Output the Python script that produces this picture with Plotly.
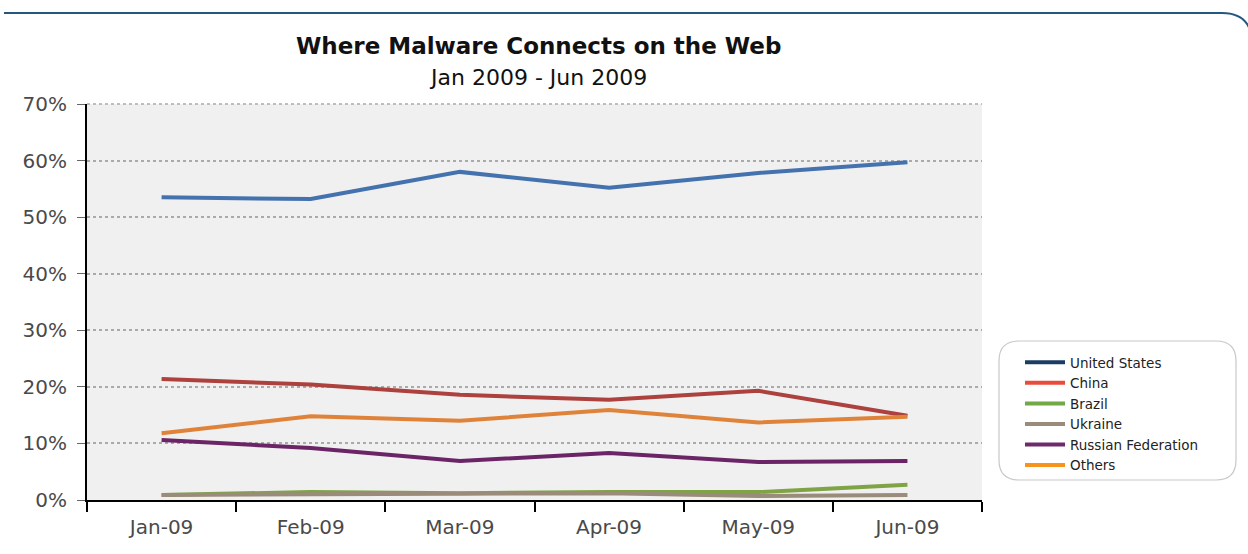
import plotly.graph_objects as go

months = ["Jan-09", "Feb-09", "Mar-09", "Apr-09", "May-09", "Jun-09"]
united_states = [53.5, 53.2, 58.0, 55.2, 57.8, 59.7]
china = [21.4, 20.4, 18.6, 17.7, 19.3, 14.9]
brazil = [0.9, 1.4, 1.2, 1.4, 1.4, 2.7]
ukraine = [0.9, 1.0, 1.0, 1.2, 0.7, 0.9]
russia = [10.6, 9.2, 6.9, 8.3, 6.7, 6.9]
others = [11.8, 14.8, 14.0, 15.9, 13.7, 14.7]

names = ["United States", "China", "Brazil", "Ukraine", "Russian Federation", "Others"]
series = [united_states, china, brazil, ukraine, russia, others]
line_colors = ["#4472ae", "#ad413d", "#7ea445", "#9a8b7a", "#6b2466", "#e0833a"]
legend_colors = ["#1c3d63", "#e84c3d", "#72a845", "#9a8b7a", "#6e2a6b", "#f7941d"]

W, H = 1248, 554
L, R, T, B = 87, 982, 104, 500
FONT = "DejaVu Sans, Open Sans, sans-serif"

def px(x):
    return (x - L) / (R - L)

def py(y):
    return (B - y) / (B - T)

fig = go.Figure()
for n, s, c in zip(names, series, line_colors):
    fig.add_trace(go.Scatter(x=months, y=s, mode="lines", name=n,
                             line=dict(color=c, width=4), showlegend=False))
for n, c in zip(names, legend_colors):
    fig.add_trace(go.Scatter(x=[None], y=[None], mode="lines", name=n,
                             line=dict(color=c, width=4), showlegend=True))

# rounded legend box
x0, x1, y0, y1, r = 999, 1236, 341, 480, 20
def P(x, y):
    return f"{px(x):.5f},{py(y):.5f}"
path = (f"M {P(x0 + r, y0)} L {P(x1 - r, y0)} Q {P(x1, y0)} {P(x1, y0 + r)} "
        f"L {P(x1, y1 - r)} Q {P(x1, y1)} {P(x1 - r, y1)} L {P(x0 + r, y1)} "
        f"Q {P(x0, y1)} {P(x0, y1 - r)} L {P(x0, y0 + r)} Q {P(x0, y0)} {P(x0 + r, y0)} Z")
top_path = (f"M {P(4, 13)} L {P(1222, 13)} Q {P(1244, 13)} {P(1250, 30)}")

fig.update_layout(
    width=W, height=H,
    margin=dict(l=L, r=W - R, t=T, b=H - B),
    paper_bgcolor="white", plot_bgcolor="#f0f0f0",
    font=dict(family=FONT, color="#444444"),
    shapes=[
        dict(type="path", xref="paper", yref="paper", path=path,
             line=dict(color="#c8c8c8", width=1.2), fillcolor="white", layer="below"),
        dict(type="path", xref="paper", yref="paper", path=top_path,
             line=dict(color="#24587f", width=2)),
        dict(type="line", xref="paper", yref="paper", x0=0, x1=1, y0=1, y1=1,
             line=dict(color="#aaaaaa", width=1.5, dash="dot")),
    ],
    annotations=[
        dict(text="<b>Where Malware Connects on the Web</b>", xref="paper", yref="paper",
             x=px(538), y=py(46), showarrow=False, font=dict(size=23, color="#111111",
             family=FONT), xanchor="center", yanchor="middle"),
        dict(text="Jan 2009 - Jun 2009", xref="paper", yref="paper",
             x=px(538), y=py(77), showarrow=False, font=dict(size=22, color="#111111",
             family=FONT), xanchor="center", yanchor="middle"),
    ],
    legend=dict(x=px(1020), y=py(347), xanchor="left", yanchor="top",
                bgcolor="rgba(0,0,0,0)", font=dict(size=13.5, color="#222222", family=FONT),
                tracegroupgap=0, itemwidth=40),
    xaxis=dict(type="category", showline=True, linecolor="black", linewidth=2,
               ticks="outside", tickson="boundaries", ticklen=10, tickcolor="black",
               tickwidth=1.5, showgrid=False, tickfont=dict(size=20, color="#4a4a4a"),
               ticklabelstandoff=8, range=[-0.5, 5.5]),
    yaxis=dict(range=[0, 70], dtick=10, ticksuffix="%", showline=True, linecolor="black",
               linewidth=2, ticks="outside", ticklen=8, tickcolor="#666666",
               showgrid=True, gridcolor="#aaaaaa", griddash="dot", gridwidth=1.5,
               zeroline=False, tickfont=dict(size=20, color="#4a4a4a"),
               ticklabelstandoff=6),
)

fig.write_html("out.html")
